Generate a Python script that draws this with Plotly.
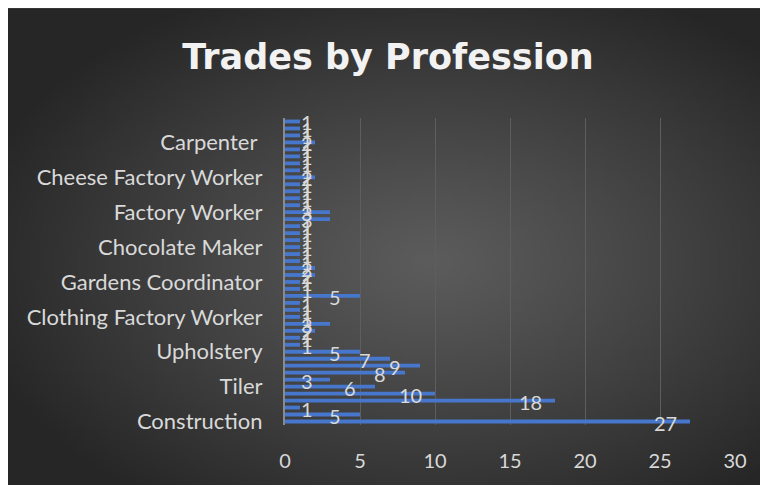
import base64, struct, zlib
import numpy as np
import plotly.graph_objects as go

# ---- data (bottom to top, as drawn) ----
trades = [27, 5, 1, 18, 10, 6, 3, 8, 9, 7,
          5, 1, 1, 2, 3, 1, 1, 1, 5, 1,
          1, 2, 2, 1, 1, 1, 1, 1, 1, 3,
          3, 1, 1, 1, 1, 2, 1, 1, 1, 1,
          2, 1, 1, 1]
label_positions = [1, 6, 11, 16, 21, 26, 31, 36, 41]
label_names = ["Construction", "Tiler", "Upholstery", "Clothing Factory Worker",
               "Gardens Coordinator", "Chocolate Maker", "Factory Worker",
               "Cheese Factory Worker", "Carpenter "]
x_ticks = [0, 5, 10, 15, 20, 25, 30]
title_text = "Trades by Profession"

positions = list(range(1, len(trades) + 1))

# ---- background gradient image (decorative) ----
W, H = 256, 162
yy, xx = np.mgrid[0:H, 0:W].astype(float)
cx, cy = W * 0.55, H * 0.52
d = np.sqrt(((xx - cx) / (W * 0.62)) ** 2 + ((yy - cy) / (H * 0.62)) ** 2)
d = np.clip(d, 0, 1)
c_in, c_out = 0x5c, 0x26
val = (c_in + (c_out - c_in) * d ** 1.1).astype(np.uint8)
rgb = np.stack([val, val, val], axis=-1)
raw = b"".join(b"\x00" + rgb[r].tobytes() for r in range(H))

def chunk(t, data):
    c = struct.pack(">I", len(data)) + t + data
    return c + struct.pack(">I", zlib.crc32(t + data) & 0xffffffff)

png = b"\x89PNG\r\n\x1a\n" + chunk(b"IHDR", struct.pack(">IIBBBBB", W, H, 8, 2, 0, 0, 0)) \
      + chunk(b"IDAT", zlib.compress(raw, 9)) + chunk(b"IEND", b"")
img_uri = "data:image/png;base64," + base64.b64encode(png).decode()

# ---- layout geometry ----
FW, FH = 768, 485
ML, MR, MT, MB = 277, 41, 109.5, 67.5
PW, PH = FW - ML - MR, FH - MT - MB
px_per_unit = PW / 30.0

fig = go.Figure()
fig.add_trace(go.Bar(
    x=trades, y=positions, orientation="h",
    marker=dict(color="#4677cc", line=dict(width=0)),
    hoverinfo="x",
))

annotations = []
for p, v in zip(positions, trades):
    shift = max(22 - v * px_per_unit, -25)
    annotations.append(dict(
        x=v, y=p, xref="x", yref="y", text=str(v), showarrow=False,
        xanchor="center", yanchor="middle", xshift=shift, yshift=-1,
        font=dict(family="Lato", size=20, color="#d9d9d9"),
    ))

fig.update_layout(
    width=FW, height=FH,
    margin=dict(l=ML, r=MR, t=MT, b=MB, pad=0),
    paper_bgcolor="#3a3a3a",
    plot_bgcolor="rgba(0,0,0,0)",
    bargap=0.45,
    showlegend=False,
    title=dict(text="<b>" + title_text + "</b>", x=380 / FW, xanchor="center",
               y=1 - 49 / FH, yanchor="middle", yref="container",
               font=dict(family="DejaVu Sans", size=35, color="#f2f2f2")),
    font=dict(family="Lato", size=20, color="#d9d9d9"),
    xaxis=dict(range=[0, 30], tickvals=x_ticks, showgrid=True,
               gridcolor="#5e5e5e", gridwidth=1, zeroline=False,
               showline=False, ticks="", ticklabelstandoff=22,
               tickfont=dict(family="Lato", size=20, color="#d9d9d9")),
    yaxis=dict(range=[0.5, len(trades) + 0.5], tickvals=label_positions,
               ticktext=label_names, showgrid=False, zeroline=False,
               showline=True, linecolor="#8a8a8a", linewidth=2,
               ticks="", ticklabelstandoff=16,
               tickfont=dict(family="Lato", size=22, color="#d9d9d9")),
    annotations=annotations,
    images=[dict(source=img_uri, xref="paper", yref="paper",
                 x=-ML / PW, y=(FH - MB) / PH,
                 sizex=FW / PW, sizey=FH / PH,
                 xanchor="left", yanchor="top", sizing="stretch",
                 layer="below")],
)

fig.write_html("out.html")
